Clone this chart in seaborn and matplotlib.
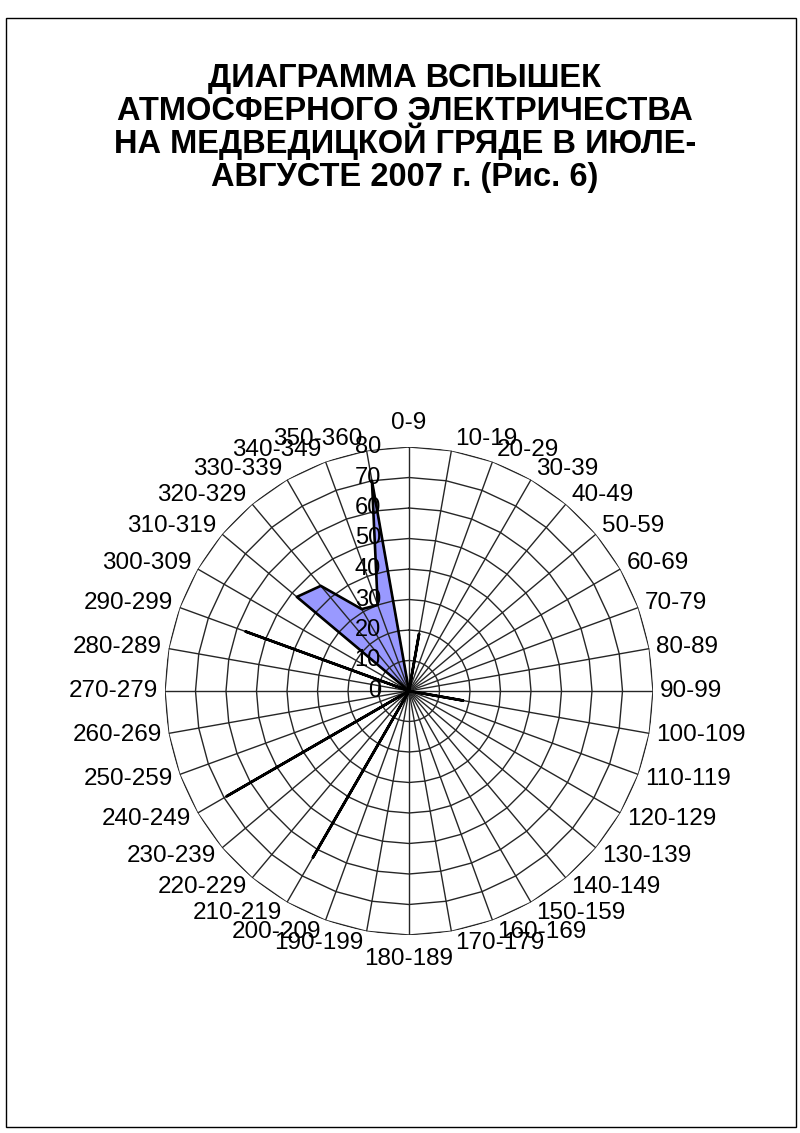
import numpy as np
import pandas as pd
import matplotlib
matplotlib.use("Agg")
import matplotlib.pyplot as plt
import matplotlib.transforms as mtransforms
from matplotlib.patches import Rectangle
import seaborn as sns

# Direction sectors (degrees) and number of lightning flashes in each
sectors = ["0-9", "10-19", "20-29", "30-39", "40-49", "50-59", "60-69", "70-79",
           "80-89", "90-99", "100-109", "110-119", "120-129", "130-139", "140-149",
           "150-159", "160-169", "170-179", "180-189", "190-199", "200-209",
           "210-219", "220-229", "230-239", "240-249", "250-259", "260-269",
           "270-279", "280-289", "290-299", "300-309", "310-319", "320-329",
           "330-339", "340-349", "350-360"]
flashes = [0, 19, 0, 0, 0, 0, 0, 0,
           0, 0, 18, 0, 0, 0, 0,
           0, 0, 0, 0, 0, 0,
           63, 0, 0, 69, 0, 0,
           0, 0, 57, 0, 48, 45,
           31, 30, 70]
radial_ticks = [0, 10, 20, 30, 40, 50, 60, 70, 80]
title_lines = ["ДИАГРАММА ВСПЫШЕК",
               "АТМОСФЕРНОГО ЭЛЕКТРИЧЕСТВА",
               "НА МЕДВЕДИЦКОЙ ГРЯДЕ В ИЮЛЕ-",
               "АВГУСТЕ 2007 г. (Рис. 6)"]

sns.set_theme(style="white")
plt.rcParams["font.family"] = ["Liberation Sans", "DejaVu Sans"]

W, H = 800, 1133
fig = plt.figure(figsize=(W / 100, H / 100), dpi=100)
fig.patch.set_facecolor("white")

# page frame
fig.patches.append(Rectangle((6 / W, 1 - 1127 / H), 790 / W, 1109 / H,
                             transform=fig.transFigure, fill=False,
                             edgecolor="black", lw=1.0))

# title
for i, line in enumerate(title_lines):
    fig.text(405 / W, 1 - (87 + 33 * i) / H, line, ha="center", va="baseline",
             fontsize=23.5, fontweight="bold", color="black")

cx, cy, R = 409, 691, 244
ax = fig.add_axes([(cx - R) / W, (H - cy - R) / H, 2 * R / W, 2 * R / H],
                  projection="polar")
ax.set_theta_zero_location("N")
ax.set_theta_direction(-1)
ax.grid(False)
ax.set_xticks([])
ax.set_yticks([])
ax.spines["polar"].set_visible(False)
ax.patch.set_alpha(0)

n = len(sectors)
theta = np.deg2rad(np.arange(n) * 360.0 / n)
theta_closed = np.append(theta, theta[0])
vals_closed = flashes + [flashes[0]]
rmax = radial_ticks[-1]

grid_kw = dict(color="#262626", lw=1.0, zorder=2)
# polygonal rings
for r in radial_ticks[1:]:
    ax.plot(theta_closed, [r] * len(theta_closed), **grid_kw)
# spokes
for t in theta:
    ax.plot([t, t], [0, rmax], **grid_kw)

# filled radar area with black outline
ax.fill(theta_closed, vals_closed, color="#9999FF", lw=0, zorder=1)
df = pd.DataFrame({"theta": theta_closed, "count": vals_closed})
sns.lineplot(data=df, x="theta", y="count", sort=False, estimator=None,
             color="black", lw=1.9, ax=ax, zorder=3, legend=False)
ax.set_xlabel("")
ax.set_ylabel("")
ax.set_xlim(0, 2 * np.pi)
ax.set_ylim(0, rmax)

# value axis labels
val_tr = mtransforms.offset_copy(ax.transData, fig=fig, x=-28, y=0, units="dots")
for r in radial_ticks:
    ax.text(0, r, str(r), transform=val_tr, ha="right", va="center",
            fontsize=17, color="black", zorder=5, clip_on=False)

# sector labels around the rim
for t, lab in zip(theta, sectors):
    s, c = np.sin(t), np.cos(t)
    if abs(s) < 1e-6:
        ha = "center"
        dx, dy = 0, 24 * np.sign(c)
    else:
        ha = "left" if s > 0 else "right"
        dx = np.sign(s) * (3 + 4 * abs(s))
        dy = 12 * c
    tr = mtransforms.offset_copy(ax.transData, fig=fig, x=dx, y=dy, units="dots")
    ax.text(t, rmax, lab, transform=tr, ha=ha, va="center", fontsize=17.5,
            color="black", zorder=5, clip_on=False)

fig.savefig("out.png", dpi=100, facecolor="white")
